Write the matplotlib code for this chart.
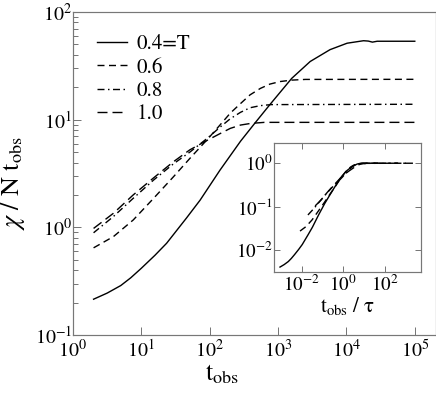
import numpy as np
import matplotlib
matplotlib.use("Agg")
import matplotlib.pyplot as plt
from matplotlib.ticker import NullLocator, LogLocator, FixedLocator

# ---- data ----
labels = ["0.4=T", "0.6", "0.8", "1.0"]

t_04 = [2, 3.16, 5, 7, 10, 15.8, 23.4, 45.7, 72.4, 141, 282, 457, 759, 1585, 2951, 5754,
        10233, 17783, 20893, 23988, 28184, 100000]
chi_04 = [0.215, 0.245, 0.288, 0.34, 0.417, 0.55, 0.711, 1.22, 1.79, 3.39, 6.3, 9.27, 13.8,
          24.2, 34.7, 44.7, 51.3, 54.1, 53.7, 52.5, 53.5, 53.5]

t_06 = [2, 3.9, 7.6, 15.1, 29.5, 51.3, 93.3, 141, 200, 282, 389, 550, 759, 1072, 1585, 2512, 100000]
chi_06 = [0.645, 0.82, 1.17, 1.86, 2.95, 4.37, 6.6, 8.9, 11.5, 14.1, 17.0, 19.5, 21.4,
          22.6, 23.3, 23.65, 23.7]

t_08 = [2, 3.9, 7.6, 15.1, 29.5, 51.3, 93.3, 141, 200, 282, 389, 550, 794, 100000]
chi_08 = [0.89, 1.26, 1.86, 2.75, 3.89, 5.0, 6.76, 8.5, 10.2, 11.7, 12.9, 13.5, 13.8, 13.9]

t_10 = [2, 3.9, 7.6, 15.1, 29.5, 51.3, 93.3, 141, 200, 282, 398, 631, 100000]
chi_10 = [0.977, 1.35, 2.0, 2.88, 4.07, 5.25, 6.46, 7.41, 8.3, 8.91, 9.23, 9.44, 9.44]

# relaxation times used for the scaled inset
tau = [2200, 240, 100, 45]

series_t = [t_04, t_06, t_08, t_10]
series_chi = [chi_04, chi_06, chi_08, chi_10]

# ---- style ----
plt.rcParams['font.family'] = ['STIXGeneral', 'DejaVu Serif']
plt.rcParams['mathtext.fontset'] = 'stix'
plt.rcParams['axes.unicode_minus'] = False
plt.rcParams['lines.scale_dashes'] = False

styles = ['-', (0, (7, 4.5)), (0, (7, 3.5, 1.5, 3.5)), (0, (10, 5))]
LW = 1.4
spine_col = '#777777'

W, H = 436, 395
fig = plt.figure(figsize=(W / 72, H / 72), dpi=72)

ax = fig.add_axes([73 / W, (H - 335) / H, (435.5 - 73) / W, (335 - 12) / H])
for t, c, ls, lab in zip(series_t, series_chi, styles, labels):
    ax.plot(t, c, color='black', lw=LW, linestyle=ls, label=lab)

ax.set_xscale('log')
ax.set_yscale('log')
ax.set_xlim(1, 10 ** 5.303)
ax.set_ylim(0.1, 100)
ax.xaxis.set_minor_locator(NullLocator())
ax.yaxis.set_minor_locator(LogLocator(base=10, subs=np.arange(2, 10)))
ax.tick_params(which='both', direction='in', top=False, right=False,
               color=spine_col, width=1, labelsize=20)
ax.tick_params(axis='x', which='major', length=8, pad=4)
ax.tick_params(axis='y', which='major', length=8, pad=1)
ax.tick_params(which='minor', length=5)
for s in ax.spines.values():
    s.set_color(spine_col)
    s.set_linewidth(1.2)

ax.set_xlabel(r'$\mathrm{t_{obs}}$', fontsize=26)
ax.xaxis.set_label_coords(0.41, -0.085)
ax.set_ylabel(r'$\chi\ /\ \mathrm{N\ t_{obs}}$', fontsize=26)
ax.yaxis.set_label_coords(-0.128, 0.47)

leg = ax.legend(loc='upper left', bbox_to_anchor=(0.065, 0.93), frameon=False,
                fontsize=21, handlelength=1.45, handletextpad=0.45,
                labelspacing=0.17, borderpad=0, borderaxespad=0)

# ---- inset ----
axi = fig.add_axes([274 / W, (H - 272) / H, (420.7 - 274) / W, (272 - 143.3) / H])
for t, c, ls, tt in zip(series_t, series_chi, styles, tau):
    t = np.asarray(t, float)
    c = np.asarray(c, float)
    axi.plot(t / tt, c / c[-1], color='black', lw=LW, linestyle=ls)
axi.set_xscale('log')
axi.set_yscale('log')
axi.set_xlim(10 ** -3.33, 10 ** 3.72)
axi.set_ylim(10 ** -2.51, 10 ** 0.46)
axi.xaxis.set_major_locator(FixedLocator([1e-2, 1, 1e2]))
axi.yaxis.set_major_locator(FixedLocator([1e-2, 1e-1, 1]))
axi.xaxis.set_minor_locator(NullLocator())
axi.yaxis.set_minor_locator(NullLocator())
axi.tick_params(which='both', direction='in', top=True, right=True,
                color=spine_col, width=1, length=6, labelsize=19)
axi.tick_params(axis='y', pad=1)
axi.tick_params(axis='x', pad=3)
for s in axi.spines.values():
    s.set_color(spine_col)
    s.set_linewidth(1.2)
axi.set_xlabel(r'$\mathrm{t_{obs}\ /\ \tau}$', fontsize=21, labelpad=0)

fig.savefig('out.png', dpi=72)
